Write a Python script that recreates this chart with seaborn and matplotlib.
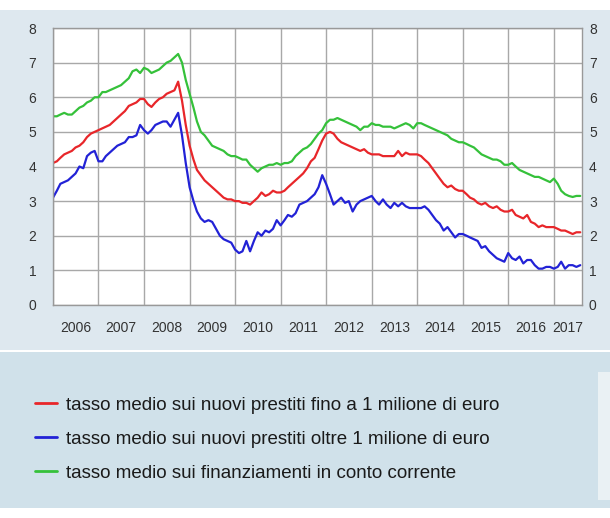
import numpy as np
import pandas as pd
import matplotlib
matplotlib.use("Agg")
import matplotlib.pyplot as plt
import matplotlib.dates as mdates
from matplotlib.patches import Rectangle
import seaborn as sns

# monthly average rates, Jan 2006 - Aug 2017
red = [4.1, 4.15, 4.25, 4.35, 4.4, 4.45, 4.55, 4.6, 4.7, 4.85, 4.95, 5.0,
       5.05, 5.1, 5.15, 5.2, 5.3, 5.4, 5.5, 5.6, 5.75, 5.8, 5.85, 5.95,
       5.95, 5.8, 5.72, 5.85, 5.95, 6.0, 6.1, 6.15, 6.2, 6.45, 5.9, 5.2,
       4.6, 4.2, 3.9, 3.75, 3.6, 3.5, 3.4, 3.3, 3.2, 3.1, 3.05, 3.05,
       3.0, 3.0, 2.95, 2.95, 2.9, 3.0, 3.1, 3.25, 3.15, 3.2, 3.3, 3.25,
       3.25, 3.3, 3.4, 3.5, 3.6, 3.7, 3.8, 3.95, 4.15, 4.25, 4.5, 4.75,
       4.95, 5.0, 4.95, 4.8, 4.7, 4.65, 4.6, 4.55, 4.5, 4.45, 4.5, 4.4,
       4.35, 4.35, 4.35, 4.3, 4.3, 4.3, 4.3, 4.45, 4.3, 4.4, 4.35, 4.35,
       4.35, 4.3, 4.2, 4.1, 3.95, 3.8, 3.65, 3.5, 3.4, 3.45, 3.35, 3.3,
       3.3, 3.2, 3.1, 3.05, 2.95, 2.9, 2.95, 2.85, 2.8, 2.85, 2.75, 2.7,
       2.7, 2.75, 2.6, 2.55, 2.5, 2.6, 2.4, 2.35, 2.25, 2.3, 2.25, 2.25,
       2.25, 2.2, 2.15, 2.15, 2.1, 2.05, 2.1, 2.1]
blue = [3.1, 3.3, 3.5, 3.55, 3.6, 3.7, 3.8, 4.0, 3.95, 4.3, 4.4, 4.45,
        4.15, 4.15, 4.3, 4.4, 4.5, 4.6, 4.65, 4.7, 4.85, 4.85, 4.9, 5.2,
        5.05, 4.95, 5.05, 5.2, 5.25, 5.3, 5.3, 5.15, 5.35, 5.55, 4.9, 4.1,
        3.4, 3.0, 2.7, 2.5, 2.4, 2.45, 2.4, 2.2, 2.0, 1.9, 1.85, 1.8,
        1.6, 1.5, 1.55, 1.85, 1.55, 1.85, 2.1, 2.0, 2.15, 2.1, 2.2, 2.45,
        2.3, 2.45, 2.6, 2.55, 2.65, 2.9, 2.95, 3.0, 3.1, 3.2, 3.4, 3.75,
        3.5, 3.2, 2.9, 3.0, 3.1, 2.95, 3.0, 2.7, 2.9, 3.0, 3.05, 3.1,
        3.15, 3.0, 2.9, 3.05, 2.9, 2.8, 2.95, 2.85, 2.95, 2.85, 2.8, 2.8,
        2.8, 2.8, 2.85, 2.75, 2.6, 2.45, 2.35, 2.15, 2.25, 2.1, 1.95, 2.05,
        2.05, 2.0, 1.95, 1.9, 1.85, 1.65, 1.7, 1.55, 1.45, 1.35, 1.3, 1.25,
        1.5, 1.35, 1.3, 1.4, 1.2, 1.3, 1.3, 1.15, 1.05, 1.05, 1.1, 1.1,
        1.05, 1.1, 1.25, 1.05, 1.15, 1.15, 1.1, 1.15]
green = [5.45, 5.45, 5.5, 5.55, 5.5, 5.5, 5.6, 5.7, 5.75, 5.85, 5.9, 6.0,
         6.0, 6.15, 6.15, 6.2, 6.25, 6.3, 6.35, 6.45, 6.55, 6.75, 6.8, 6.7,
         6.85, 6.8, 6.7, 6.75, 6.8, 6.9, 7.0, 7.05, 7.15, 7.25, 7.0, 6.5,
         6.1, 5.7, 5.3, 5.0, 4.9, 4.75, 4.6, 4.55, 4.5, 4.45, 4.35, 4.3,
         4.3, 4.25, 4.2, 4.2, 4.05, 3.95, 3.85, 3.95, 4.0, 4.05, 4.05, 4.1,
         4.05, 4.1, 4.1, 4.15, 4.3, 4.4, 4.5, 4.55, 4.65, 4.8, 4.95, 5.05,
         5.25, 5.35, 5.35, 5.4, 5.35, 5.3, 5.25, 5.2, 5.15, 5.05, 5.15, 5.15,
         5.25, 5.2, 5.2, 5.15, 5.15, 5.15, 5.1, 5.15, 5.2, 5.25, 5.2, 5.1,
         5.25, 5.25, 5.2, 5.15, 5.1, 5.05, 5.0, 4.95, 4.9, 4.8, 4.75, 4.7,
         4.7, 4.65, 4.6, 4.55, 4.45, 4.35, 4.3, 4.25, 4.2, 4.2, 4.15, 4.05,
         4.05, 4.1, 4.0, 3.9, 3.85, 3.8, 3.75, 3.7, 3.7, 3.65, 3.6, 3.55,
         3.65, 3.5, 3.3, 3.2, 3.15, 3.12, 3.15, 3.15]
labels = ["tasso medio sui nuovi prestiti fino a 1 milione di euro",
          "tasso medio sui nuovi prestiti oltre 1 milione di euro",
          "tasso medio sui finanziamenti in conto corrente"]
years = list(range(2006, 2018))
colors = ["#e8262a", "#2222d6", "#35c13a"]

dates = pd.date_range("2006-01-01", periods=len(red), freq="MS")
df = pd.concat([
    pd.DataFrame({"data": dates, "tasso": vals, "serie": lab})
    for vals, lab in zip([red, blue, green], labels)
])

sns.set_style("white")
plt.rcParams["font.family"] = ["Liberation Sans", "DejaVu Sans"]

fig = plt.figure(figsize=(6.1, 5.18), dpi=100, facecolor="white")
# background panels
fig.patches.append(Rectangle((0, 1 - 350 / 518), 1, 340 / 518, transform=fig.transFigure,
                             facecolor="#dee8ef", edgecolor="none", zorder=-10))
fig.patches.append(Rectangle((0, 1 - 508 / 518), 1, 156 / 518, transform=fig.transFigure,
                             facecolor="#d0e1ea", edgecolor="none", zorder=-10))
fig.patches.append(Rectangle((598 / 610, 1 - 500 / 518), 12 / 610, 128 / 518, transform=fig.transFigure,
                             facecolor="#eaf1f4", edgecolor="none", zorder=-9))

ax = fig.add_axes([53 / 610, 1 - 305 / 518, 529 / 610, 277 / 518])
ax.set_facecolor("white")
sns.lineplot(data=df, x="data", y="tasso", hue="serie", palette=colors,
             linewidth=1.6, ax=ax, legend=True)

ax.set_ylim(0, 8)
ax.set_xlim(pd.Timestamp("2006-01-01"), pd.Timestamp("2017-08-15"))
ax.set_yticks(range(0, 9))
ax.xaxis.set_major_locator(mdates.YearLocator())
ax.xaxis.set_minor_locator(mdates.MonthLocator())
ax.set_xticklabels([])
ax.grid(True, which="major", color="#a8a8a8", linewidth=1)
ax.tick_params(axis="x", which="major", length=0)
ax.tick_params(axis="x", which="minor", direction="in", length=3, color="#999999", width=0.8)
ax.tick_params(axis="y", length=0, labelsize=10, labelcolor="#333333", pad=12)
ax.set_xlabel("")
ax.set_ylabel("")
for s in ax.spines.values():
    s.set_color("#999999")
    s.set_linewidth(1)

# right-hand axis labels
ax2 = ax.twinx()
ax2.set_ylim(0, 8)
ax2.set_yticks(range(0, 9))
ax2.tick_params(axis="y", length=0, labelsize=10, labelcolor="#333333", pad=5)
ax2.grid(False)
for s in ax2.spines.values():
    s.set_visible(False)

# year labels centred in each year
for y in years:
    if y < 2017:
        mid = pd.Timestamp(f"{y}-07-01")
    else:
        mid = pd.Timestamp("2017-04-25")
    ax.text(mdates.date2num(mid), -0.65, str(y), ha="center", va="center",
            fontsize=10, color="#333333", transform=ax.transData, clip_on=False)

handles, labs = ax.get_legend_handles_labels()
leg = ax.legend(handles, labs, loc="upper left", bbox_to_anchor=(18 / 610, 1 - 380 / 518),
                bbox_transform=fig.transFigure, frameon=False, fontsize=13.5,
                handlelength=1.2, handletextpad=0.45, labelspacing=0.9)
for line in leg.get_lines():
    line.set_linewidth(2)
for t in leg.get_texts():
    t.set_color("#1a1a1a")

fig.savefig("out.png", dpi=100, facecolor=fig.get_facecolor())
